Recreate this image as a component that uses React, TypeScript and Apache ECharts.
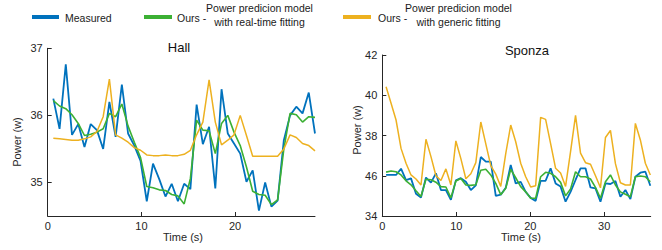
import React, { useEffect, useRef } from "react";
import * as echarts from "echarts";

// ---------- Hall data (sampled every ~0.665 s starting at 0.6 s) ----------
const HALL_T0 = 0.6;
const HALL_DT = 0.665;
const hallMeasured = [
  36.25, 35.8, 36.76, 35.71, 35.87, 35.53, 35.87, 35.78, 35.5, 36.2, 35.68, 36.46, 35.73,
  35.55, 35.32, 34.72, 35.28, 35.05, 34.79, 34.98, 34.72, 34.98, 34.9, 36.16, 35.57, 35.83,
  34.91, 36.39, 35.73, 35.58, 35.43, 35.01, 35.18, 34.58, 35.0, 34.64, 34.73, 35.63, 36.0,
  36.13, 36.03, 36.34, 35.73,
];
const hallRealtime = [
  36.22, 36.14, 36.1, 36.01, 35.88, 35.7, 35.72, 35.75, 35.8, 36.03, 35.98, 36.17, 35.84,
  35.6, 35.37, 34.94, 34.92, 34.89, 34.88, 34.82, 34.8, 34.68, 35.06, 35.93, 35.78, 35.77,
  35.43, 35.88, 36.0, 35.75, 35.55, 35.23, 34.87, 34.82, 34.81, 34.67, 34.74, 35.5, 36.03,
  36.01, 35.9, 35.98, 35.97,
];
const hallGeneric = [
  35.66, 35.65, 35.64, 35.63, 35.63, 35.65, 35.68, 35.76, 35.98, 36.54, 35.71, 35.66, 35.6,
  35.52, 35.48, 35.41, 35.4, 35.4, 35.41, 35.4, 35.4, 35.42, 35.48, 35.71, 35.9, 36.53,
  35.9, 35.56, 35.63, 35.71, 36.0, 35.7, 35.39, 35.39, 35.39, 35.39, 35.39, 35.5, 35.71,
  35.67, 35.58, 35.55, 35.47,
];
const hallXTicks = [0, 10, 20];
const hallYTicks = [35, 36, 37];
const hallYLabels = ["35", "36", "37"];

// ---------- Sponza data (sampled every ~0.674 s starting at 0.51 s) ----------
const SPONZA_T0 = 0.51;
const SPONZA_DT = 0.674;
const sponzaMeasured = [
  36.04, 36.04, 36.04, 36.35, 35.78, 35.87, 35.11, 34.92, 35.91, 35.66, 36.12, 35.29, 35.29,
  34.8, 35.77, 35.88, 35.7, 35.29, 35.52, 36.93, 36.7, 36.7, 35.0, 35.06, 35.4, 36.54, 35.62,
  35.7, 35.2, 34.9, 34.75, 35.75, 35.75, 36.37, 35.62, 35.46, 34.71, 35.2, 35.79, 36.37,
  36.37, 35.42, 35.37, 34.71, 35.62, 35.59, 35.74, 34.96, 35.29, 34.84, 35.95, 36.15, 36.2,
  35.5,
];
const sponzaRealtime = [
  36.18, 36.24, 36.2, 36.04, 35.75, 35.55, 35.25, 34.97, 35.83, 35.8, 35.68, 35.46, 35.44,
  34.9, 35.74, 35.86, 35.54, 35.52, 35.55, 36.27, 36.32, 36.04, 35.62, 35.06, 35.38, 36.32,
  35.9, 35.46, 35.2, 34.88, 34.88, 35.95, 36.17, 36.12, 35.95, 35.67, 35.0, 35.34, 36.2,
  35.95, 35.95, 35.84, 35.42, 34.88, 35.7, 36.04, 35.54, 35.2, 35.08, 34.96, 35.95, 35.99,
  35.95, 35.7,
];
const sponzaGeneric = [
  40.42, 39.6, 38.77, 37.36, 36.62, 36.04, 35.84, 35.54, 37.81, 36.95, 36.0, 35.76, 36.34,
  35.54, 37.73, 36.85, 35.85, 36.1, 36.65, 38.67, 37.58, 36.5, 36.08, 35.47, 37.1, 38.52,
  37.69, 36.62, 35.95, 35.44, 35.5, 38.9, 38.8, 37.6, 36.37, 36.14, 35.47, 37.2, 39.0, 37.12,
  36.65, 36.57, 36.0, 35.4, 37.9, 38.25, 36.6, 35.65, 35.54, 35.54, 38.6, 37.78, 36.62, 36.04,
];
const sponzaXTicks = [0, 10, 20, 30];
const sponzaYTicks = [34, 36, 38, 40, 42];
const sponzaYLabels = ["34", "46", "38", "40", "42"];

const COLOR_MEASURED = "#0072BD";
const COLOR_REALTIME = "#3CB034";
const COLOR_GENERIC = "#EDB120";
const AXIS_COLOR = "#262626";
const FONT = "'Liberation Sans', Arial, sans-serif";

const pairs = (vals: number[], t0: number, dt: number) =>
  vals.map((v, i) => [+(t0 + i * dt).toFixed(3), v]);

export default function App() {
  const ref = useRef<HTMLDivElement>(null);

  useEffect(() => {
    document.body.style.margin = "0";
    if (!ref.current) return;
    const chart = echarts.init(ref.current, null, { renderer: "svg" });

    const hallMax = +(HALL_T0 + (hallMeasured.length - 1) * HALL_DT).toFixed(3);
    const sponzaMax = +(SPONZA_T0 + (sponzaMeasured.length - 1) * SPONZA_DT).toFixed(3) + 0.05;

    const axisBase = {
      type: "value" as const,
      splitLine: { show: false },
      axisLine: { show: true, onZero: false, lineStyle: { color: AXIS_COLOR, width: 1 } },
    };
    const xAxis = (gridIndex: number, max: number, ticks: number[]) => ({
      ...axisBase,
      gridIndex,
      min: 0,
      max,
      axisTick: { show: true, inside: true, length: 4, customValues: ticks, lineStyle: { color: AXIS_COLOR } },
      axisLabel: { color: AXIS_COLOR, fontSize: 11, fontFamily: FONT, margin: 4, customValues: ticks },
    });
    const yAxis = (gridIndex: number, min: number, max: number, ticks: number[], labels: string[]) => ({
      ...axisBase,
      gridIndex,
      min,
      max,
      axisTick: { show: true, inside: true, length: 4, customValues: ticks, lineStyle: { color: AXIS_COLOR } },
      axisLabel: {
        color: AXIS_COLOR,
        fontSize: 11,
        fontFamily: FONT,
        margin: 5,
        customValues: ticks,
        formatter: (v: number) => {
          const i = ticks.findIndex((t) => Math.abs(t - v) < 1e-6);
          return i >= 0 ? labels[i] : "";
        },
      },
    });

    const line = (name: string, data: number[][], color: string, width: number, idx: number, z: number) => ({
      type: "line" as const,
      name,
      data,
      xAxisIndex: idx,
      yAxisIndex: idx,
      showSymbol: false,
      symbol: "none",
      z,
      lineStyle: { color, width },
      itemStyle: { color },
    });

    const txt = (text: string, x: number, y: number, size: number, align = "left", rotation = 0, fill = "#1a1a1a") => ({
      type: "text",
      x,
      y,
      rotation,
      style: { text, fontSize: size, fontFamily: FONT, fill, align, verticalAlign: "middle" },
    });
    const legLine = (x1: number, x2: number, color: string) => ({
      type: "line",
      shape: { x1, y1: 17, x2, y2: 17 },
      style: { stroke: color, lineWidth: 4 },
    });

    chart.setOption({
      animation: false,
      backgroundColor: "#ffffff",
      grid: [
        { left: 47.7, top: 48.3, width: 267.3, height: 167.7, containLabel: false },
        { left: 382.3, top: 55, width: 268.4, height: 161, containLabel: false },
      ],
      xAxis: [xAxis(0, hallMax, hallXTicks), xAxis(1, sponzaMax, sponzaXTicks)],
      yAxis: [
        yAxis(0, 34.5, 37, hallYTicks, hallYLabels),
        yAxis(1, 34, 42, sponzaYTicks, sponzaYLabels),
      ],
      series: [
        line("Measured", pairs(hallMeasured, HALL_T0, HALL_DT), COLOR_MEASURED, 1.8, 0, 2),
        line("Real-time", pairs(hallRealtime, HALL_T0, HALL_DT), COLOR_REALTIME, 1.6, 0, 3),
        line("Generic", pairs(hallGeneric, HALL_T0, HALL_DT), COLOR_GENERIC, 1.5, 0, 4),
        line("Measured", pairs(sponzaMeasured, SPONZA_T0, SPONZA_DT), COLOR_MEASURED, 1.8, 1, 2),
        line("Real-time", pairs(sponzaRealtime, SPONZA_T0, SPONZA_DT), COLOR_REALTIME, 1.6, 1, 3),
        line("Generic", pairs(sponzaGeneric, SPONZA_T0, SPONZA_DT), COLOR_GENERIC, 1.5, 1, 4),
      ],
      graphic: [
        legLine(32, 59, COLOR_MEASURED),
        txt("Measured", 65, 17.5, 10.5),
        legLine(144, 172, COLOR_REALTIME),
        txt("Ours -", 177, 17.5, 10.5),
        txt("Power predicion model", 259.5, 8, 10.5, "center"),
        txt("with real-time fitting", 259.5, 22, 10.5, "center"),
        legLine(343, 371, COLOR_GENERIC),
        txt("Ours -", 378, 17.5, 10.5),
        txt("Power predicion model", 458.5, 8, 10.5, "center"),
        txt("with generic fitting", 458.5, 22, 10.5, "center"),
        txt("Hall", 179, 47, 13, "center", 0, "#111"),
        txt("Sponza", 527, 50, 13, "center", 0, "#111"),
        txt("Power (w)", 17, 142, 11, "center", Math.PI / 2, AXIS_COLOR),
        txt("Power (w)", 357, 130, 11, "center", Math.PI / 2, AXIS_COLOR),
        txt("Time (s)", 183, 237, 11, "center", 0, AXIS_COLOR),
        txt("Time (s)", 521, 237, 11, "center", 0, AXIS_COLOR),
      ],
    });

    return () => chart.dispose();
  }, []);

  return <div ref={ref} style={{ width: 662, height: 250 }} />;
}
